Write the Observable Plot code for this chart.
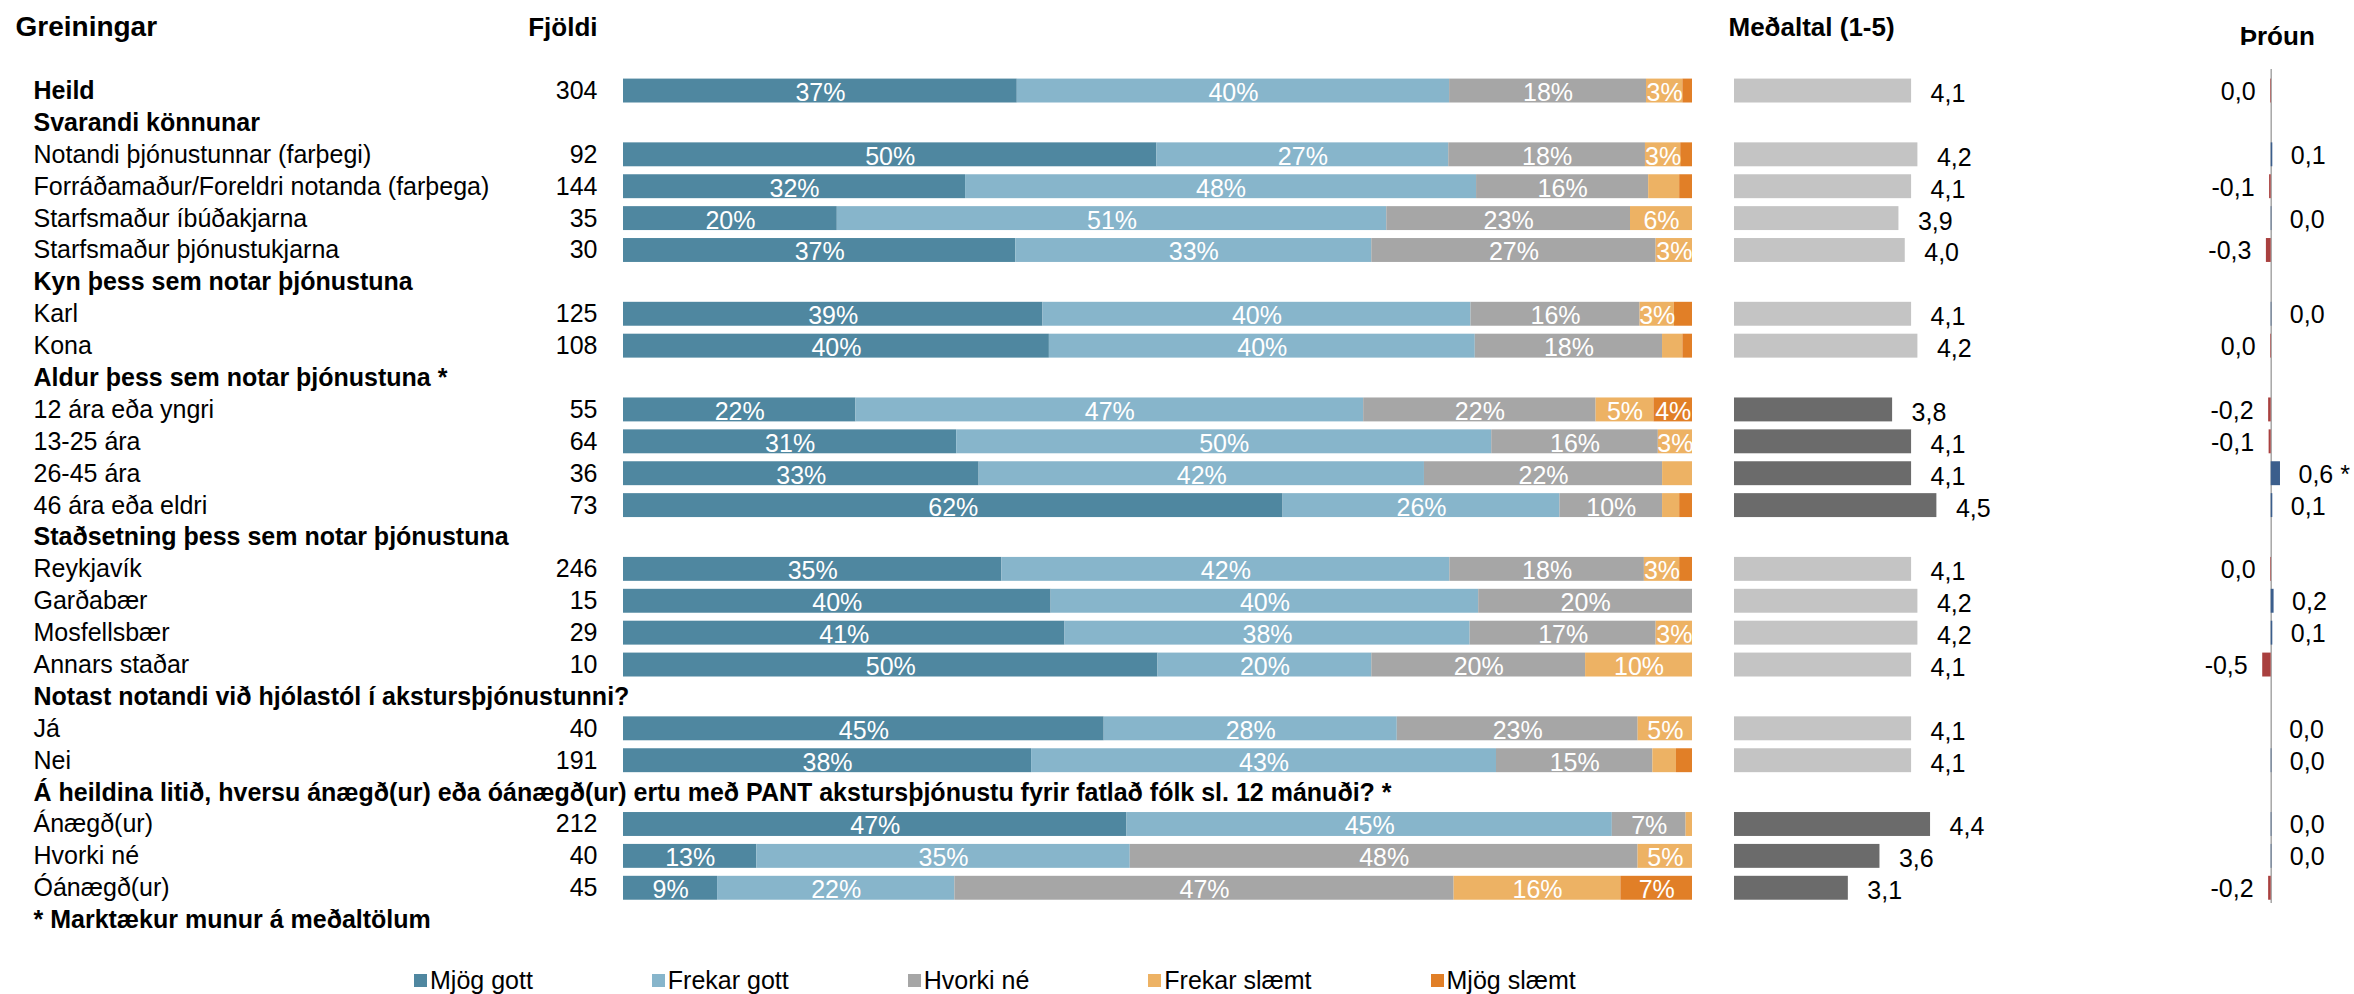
<!DOCTYPE html>
<html>
<head>
<meta charset="utf-8">
<script src="https://cdn.jsdelivr.net/npm/d3@7"></script>
<script src="https://cdn.jsdelivr.net/npm/@observablehq/plot@0.6"></script>
<style>
  body { margin: 0; background: #fff; }
  #chart { position: relative; width: 2354px; height: 994px; font-family: "Liberation Sans", Arial, sans-serif; color: #000; }
  #chart svg { position: absolute; top: 0; left: 0; background: transparent; overflow: visible; }
  #legend { position: absolute; left: 414px; top: 965px; display: flex; gap: 119px; align-items: center; font-size: 25px; line-height: 30px; }
  #legend .item { display: flex; align-items: center; }
  #legend .sw { width: 13px; height: 13px; margin-right: 3px; }
</style>
</head>
<body>
<div id="chart"></div>
<script>
// ---------- DATA ----------
const rowLabels = [
  "Heild",
  "Svarandi könnunar",
  "Notandi þjónustunnar (farþegi)",
  "Forráðamaður/Foreldri notanda (farþega)",
  "Starfsmaður íbúðakjarna",
  "Starfsmaður þjónustukjarna",
  "Kyn þess sem notar þjónustuna",
  "Karl",
  "Kona",
  "Aldur þess sem notar þjónustuna *",
  "12 ára eða yngri",
  "13-25 ára",
  "26-45 ára",
  "46 ára eða eldri",
  "Staðsetning þess sem notar þjónustuna",
  "Reykjavík",
  "Garðabær",
  "Mosfellsbær",
  "Annars staðar",
  "Notast notandi við hjólastól í akstursþjónustunni?",
  "Já",
  "Nei",
  "Á heildina litið, hversu ánægð(ur) eða óánægð(ur) ertu með PANT akstursþjónustu fyrir fatlað fólk sl. 12 mánuði? *",
  "Ánægð(ur)",
  "Hvorki né",
  "Óánægð(ur)",
  "* Marktækur munur á meðaltölum"
];
const boldRows = [0, 1, 6, 9, 14, 19, 22, 26];

const counts = [304, null, 92, 144, 35, 30, null, 125, 108, null, 55, 64, 36, 73, null, 246, 15, 29, 10, null, 40, 191, null, 212, 40, 45, null];

const categories = ["Mjög gott", "Frekar gott", "Hvorki né", "Frekar slæmt", "Mjög slæmt"];
const colors = ["#4f87a0", "#87b5cb", "#a6a6a6", "#edb264", "#e17f27"];

const mjogGott     = [36.8, null, 49.9, 32.0, 20.0, 36.7, null, 39.2, 39.8, null, 21.7, 31.2, 33.3, 61.7, null, 35.4, 40, 41.3, 50, null, 45.1, 38.1, null, 47.1, 12.5, 8.8, null];
const frekarGott   = [40.4, null, 27.3, 47.8, 51.4, 33.3, null, 40.0, 39.8, null, 47.4, 50.1, 41.7, 25.9, null, 41.9, 40, 37.9, 20, null, 27.5, 43.4, null, 45.4, 35.0, 22.2, null];
const hvorkiNe     = [18.4, null, 18.4, 16.1, 22.8, 26.6, null, 15.8, 17.5, null, 21.7, 15.6, 22.3, 9.6, null, 18.2, 20, 17.4, 20, null, 22.6, 14.6, null, 6.9, 47.6, 46.7, null];
const frekarSlaemt = [3.4, null, 3.3, 2.9, 5.8, 3.4, null, 3.2, 1.9, null, 5.4, 3.2, 2.8, 1.6, null, 3.3, 0, 3.4, 10, null, 5.1, 2.2, null, 0.6, 5.1, 15.6, null];
const mjogSlaemt   = [0.9, null, 1.1, 1.2, 0, 0, null, 1.7, 0.9, null, 3.6, 0, 0, 1.2, null, 1.2, 0, 0, 0, null, 0, 1.5, null, 0, 0, 6.7, null];

const means = [4.1, null, 4.2, 4.1, 3.9, 4.0, null, 4.1, 4.2, null, 3.8, 4.1, 4.1, 4.5, null, 4.1, 4.2, 4.2, 4.1, null, 4.1, 4.1, null, 4.4, 3.6, 3.1, null];
const darkMeanRows = [10, 11, 12, 13, 23, 24, 25];
const meanAxisMin = 1.3;

const trends = [-0.04, null, 0.1, -0.1, 0.04, -0.3, null, 0.04, -0.04, null, -0.16, -0.13, 0.58, 0.1, null, -0.04, 0.18, 0.1, -0.53, null, 0, 0.04, null, 0.04, 0.04, -0.16, null];
const trendStarRows = [12];

// ---------- HELPERS ----------
const W = 2354, H = 994;
const rows = d3.range(rowLabels.length);
const dataRows = rows.filter(i => counts[i] != null);
const series = [mjogGott, frekarGott, hvorkiNe, frekarSlaemt, mjogSlaemt];
const table = dataRows.flatMap(i => categories.map((c, k) => ({row: i, cat: c, value: series[k][i]})));
const comma1 = v => {
  const r = Math.round(v * 10) / 10;
  return r === 0 ? "0,0" : r.toFixed(1).replace(".", ",");
};
const yScale = {type: "band", domain: rows, range: [74.6, 935.6], paddingInner: 0.25, paddingOuter: 0.125, round: false, axis: null};
const style = {fontFamily: '"Liberation Sans", Arial, sans-serif', background: "transparent", overflow: "visible", color: "#000"};
const FS = 25;

// ---------- PLOT A: labels and counts ----------
const plotA = Plot.plot({
  width: W, height: H,
  marginLeft: 33, marginRight: W - 597, marginTop: 27, marginBottom: 0,
  y: yScale, style,
  marks: [
    Plot.text(rows.filter(i => !boldRows.includes(i)), {y: d => d, text: d => rowLabels[d], frameAnchor: "left", textAnchor: "start", fontSize: FS, fill: "#000"}),
    Plot.text(boldRows, {y: d => d, text: d => rowLabels[d], frameAnchor: "left", textAnchor: "start", fontSize: FS, fontWeight: "bold", fill: "#000"}),
    Plot.text(dataRows, {y: d => d, text: d => String(counts[d]), frameAnchor: "right", textAnchor: "end", fontSize: FS, fill: "#000"}),
    Plot.text(["Greiningar"], {text: d => d, frameAnchor: "top-left", lineAnchor: "middle", dx: -18, textAnchor: "start", fontSize: 28, fontWeight: "bold", fill: "#000"}),
    Plot.text(["Fjöldi"], {text: d => d, frameAnchor: "top-right", lineAnchor: "middle", textAnchor: "end", fontSize: 26, fontWeight: "bold", fill: "#000"})
  ]
});

// ---------- PLOT B: stacked bars ----------
const plotB = Plot.plot({
  width: W, height: H,
  marginLeft: 623, marginRight: W - 1692, marginTop: 0, marginBottom: 0,
  y: yScale, x: {domain: [0, 1], axis: null},
  color: {domain: categories, range: colors},
  style,
  marks: [
    Plot.barX(table, Plot.stackX({x: "value", y: "row", fill: "cat", z: "cat", offset: "normalize"})),
    Plot.text(table, Plot.stackX({x: "value", y: "row", z: "cat", offset: "normalize",
      text: d => d.value >= 3 ? Math.round(d.value) + "%" : "", fill: "white", fontSize: FS, dy: 2}))
  ]
});

// ---------- PLOT C: means ----------
const meanRows = dataRows.filter(i => means[i] != null);
const plotC = Plot.plot({
  width: W, height: H,
  marginLeft: 1734, marginRight: W - 1968, marginTop: 27, marginBottom: 0,
  y: yScale, x: {domain: [meanAxisMin, 5], axis: null},
  color: {type: "identity"},
  style,
  marks: [
    Plot.barX(meanRows, {y: d => d, x1: meanAxisMin, x2: d => means[d], fill: d => darkMeanRows.includes(d) ? "#6b6b6b" : "#c4c4c4"}),
    Plot.text(meanRows, {y: d => d, x: d => means[d], text: d => comma1(means[d]), textAnchor: "start", dx: 19, dy: 3, fontSize: FS, fill: "#000"}),
    Plot.text(["Meðaltal (1-5)"], {text: d => d, frameAnchor: "top-left", lineAnchor: "middle", dx: -6, textAnchor: "start", fontSize: 26, fontWeight: "bold", fill: "#000"})
  ]
});

// ---------- PLOT D: trend ----------
const trendRows = dataRows.filter(i => trends[i] != null);
const zeroX = 2270.7, pxPerUnit = 16;
const plotD = Plot.plot({
  width: W, height: H,
  marginLeft: zeroX - pxPerUnit, marginRight: W - (zeroX + pxPerUnit), marginTop: 69, marginBottom: H - 903,
  y: yScale, x: {domain: [-1, 1], axis: null},
  color: {type: "identity"},
  style,
  marks: [
    Plot.ruleX([0], {stroke: "#a6a6a6", strokeWidth: 1.5}),
    Plot.barX(trendRows, {y: d => d, x: d => trends[d], fill: d => trends[d] < 0 ? "#a9403f" : "#3b5e8c"}),
    Plot.text(trendRows.filter(i => trends[i] < 0), {y: d => d, x: d => trends[d], text: d => comma1(trends[d]) + (trendStarRows.includes(d) ? " *" : ""), textAnchor: "end", dx: -15, dy: 1, fontSize: FS, fill: "#000"}),
    Plot.text(trendRows.filter(i => trends[i] >= 0), {y: d => d, x: d => trends[d], text: d => comma1(trends[d]) + (trendStarRows.includes(d) ? " *" : ""), textAnchor: "start", dx: 18, dy: 1, fontSize: FS, fill: "#000"}),
    Plot.text(["Þróun"], {text: d => d, frameAnchor: "top", lineAnchor: "middle", dx: 6, dy: -33, fontSize: 26, fontWeight: "bold", fill: "#000"})
  ]
});

const chart = document.getElementById("chart");
[plotA, plotB, plotC, plotD].forEach(p => chart.appendChild(p));

// ---------- LEGEND ----------
const legend = document.createElement("div");
legend.id = "legend";
categories.forEach((c, k) => {
  const item = document.createElement("div");
  item.className = "item";
  const sw = document.createElement("span");
  sw.className = "sw";
  sw.style.background = colors[k];
  const tx = document.createElement("span");
  tx.textContent = c;
  item.appendChild(sw);
  item.appendChild(tx);
  legend.appendChild(item);
});
chart.appendChild(legend);
</script>
</body>
</html>
